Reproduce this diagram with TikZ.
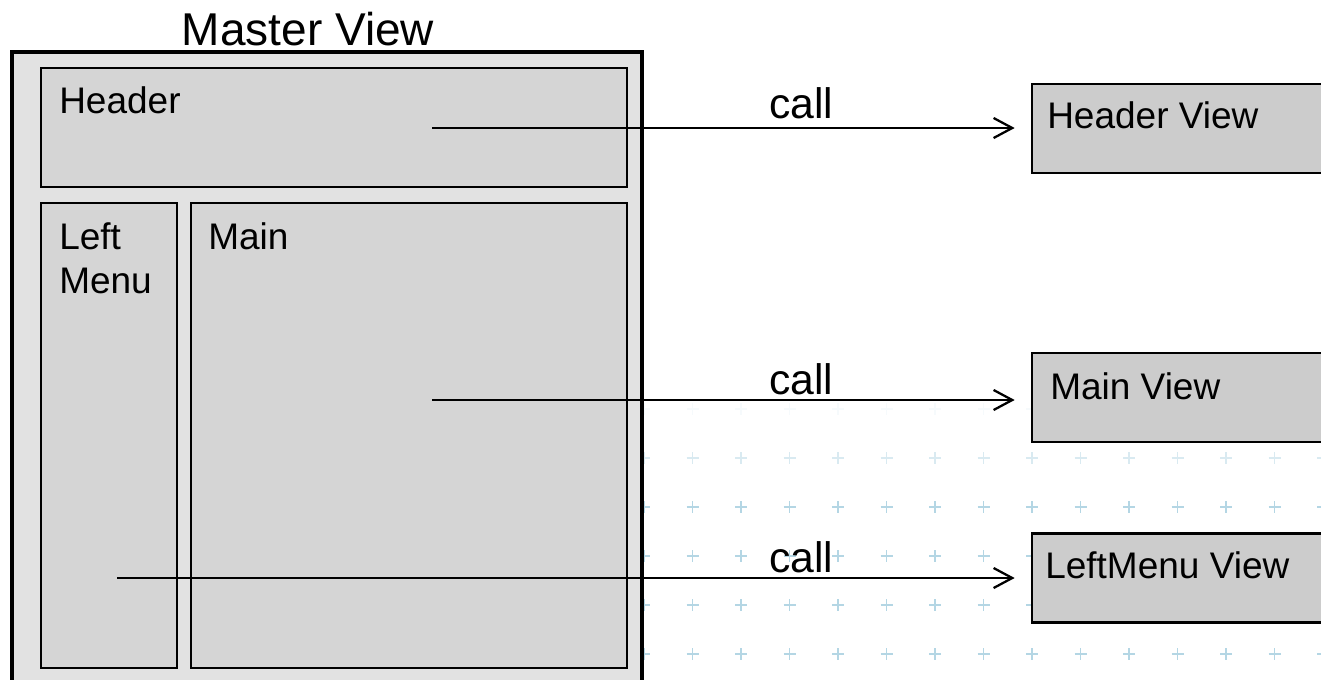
\documentclass[tikz,border=0pt]{standalone}
\usepackage{fontspec}
\setmainfont{Liberation Sans}
\usetikzlibrary{arrows.meta}
\definecolor{masterfill}{HTML}{E2E2E2}
\definecolor{partfill}{HTML}{D5D5D5}
\definecolor{viewfill}{HTML}{CCCCCC}
\definecolor{crossblue}{HTML}{B4D6E4}
\begin{document}
\begin{tikzpicture}[x=0.75pt, y=-0.75pt,
        part/.style={draw, line width=2pt, fill=partfill, inner sep=0pt},
        view/.style={draw, line width=2pt, fill=viewfill, inner sep=0pt, minimum width=231pt, minimum height=66.75pt},
        txt/.style={inner sep=0pt, font=\fontsize{27.75pt}{33.3pt}\selectfont},
        calltxt/.style={inner sep=0pt, anchor=base, font=\fontsize{32pt}{38pt}\selectfont},
        callarrow/.style={-{Straight Barb[length=14pt, width=15pt]}, line width=1.7pt, shorten >=12pt},
        cross/.style={crossblue, line width=0.8pt}]
    \useasboundingbox (0,0) rectangle (1321,679);
    % faint crosses of the slide background
    \foreach \y/\op in {409/12, 458/50, 507/100, 556/100, 605/100, 654/100}
        \foreach \x in {0,...,14}
            \draw[cross, opacity=\op/100] (644+48.5*\x, \y) ++(-6,0) -- ++(12,0) ++(-6,-6) -- ++(0,12);

    \node[draw, line width=2.4pt, fill=masterfill, minimum width=472.5pt, minimum height=486pt] (master) at (327,376) {};
    \node[inner sep=0pt, anchor=base, font=\fontsize{34.5pt}{41.4pt}\selectfont] (mastertitle) at (308,45) {Master View};

    \node[part, minimum width=439.5pt, minimum height=89.25pt] (header) at (334,127.5) {};
    \node[part, minimum width=102pt, minimum height=348.75pt] (leftmenu) at (109,435.5) {};
    \node[part, minimum width=327pt, minimum height=348.75pt] (mainpart) at (409,435.5) {};
    \node[txt, anchor=base west] (headerlbl) at (59,113) {Header};
    \node[txt, anchor=north west, align=left] (leftmenulbl) at (59,222) {Left\\Menu};
    \node[txt, anchor=base west] (mainlbl) at (208,249) {Main};

    \node[view] (headerview) at (1186,128.5) {};
    \node[view] (mainview) at (1186,397.5) {};
    \node[view] (leftmenuview) at (1186,578) {};
    \node[txt, anchor=base west] (headerviewlbl) at (1047,128) {Header View};
    \node[txt, anchor=base west] (mainviewlbl) at (1050,399) {Main View};
    \node[txt, anchor=base west] (leftmenuviewlbl) at (1045,578) {LeftMenu View};

    \coordinate (headersrc) at (432,128);
    \coordinate (mainsrc) at (432,400);
    \coordinate (leftmenusrc) at (117,578);
    \draw[callarrow] (headersrc) -- (headersrc -| headerview.west) node[calltxt, pos=0.617, yshift=7.5pt] {call};
    \draw[callarrow] (mainsrc) -- (mainsrc -| mainview.west) node[calltxt, pos=0.617, yshift=4pt] {call};
    \draw[callarrow] (leftmenusrc) -- (leftmenusrc -| leftmenuview.west) node[calltxt, pos=0.749, yshift=4pt] {call};
\end{tikzpicture}
\end{document}
